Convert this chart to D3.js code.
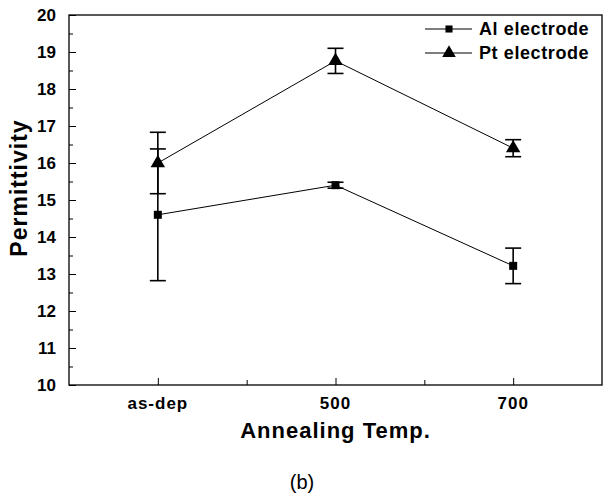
<!DOCTYPE html>
<html>
<head>
<meta charset="utf-8">
<script src="https://cdn.jsdelivr.net/npm/d3@7"></script>
<style>
  body { margin: 0; background: #fff; }
  text { font-family: "Liberation Sans", Arial, sans-serif; }
</style>
</head>
<body>
<script>
// chart data
const categories = ["as-dep", "500", "700"];
const alValues = [14.6, 15.4, 13.22];
const alErrors = [1.78, 0.08, 0.48];
const ptValues = [16.0, 18.76, 16.4];
const ptErrors = [0.83, 0.34, 0.23];
const yTicks = [10, 11, 12, 13, 14, 15, 16, 17, 18, 19, 20];
const seriesNames = ["Al electrode", "Pt electrode"];

const width = 603;
const height = 497;
const margin = { left: 69, right: 1, top: 15, bottom: 112 };

const svg = d3.select("body").append("svg")
  .attr("width", width).attr("height", height);

const x = d3.scaleLinear().domain([0.5, 3.5])
  .range([margin.left, width - margin.right]);
const y = d3.scaleLinear().domain([10, 20])
  .range([height - margin.bottom, margin.top]);

//Frame
svg.append("rect")
  .attr("x", x(0.5)).attr("y", y(20))
  .attr("width", x(3.5) - x(0.5)).attr("height", y(10) - y(20))
  .attr("fill", "none").attr("stroke", "#000").attr("stroke-width", 1.3);

//Y axis (ticks point inward)
const yAxis = d3.axisRight(y).tickValues(yTicks).tickSize(7).tickFormat("");
svg.append("g").attr("transform", `translate(${x(0.5)},0)`).call(yAxis)
  .call(g => g.select(".domain").remove());
const yMinor = d3.axisRight(y).tickValues(d3.range(10.5, 20, 1)).tickSize(4).tickFormat("");
svg.append("g").attr("transform", `translate(${x(0.5)},0)`).call(yMinor)
  .call(g => g.select(".domain").remove());

svg.append("g").selectAll("text").data(yTicks).join("text")
  .attr("x", x(0.5) - 13).attr("y", d => y(d) + 6)
  .attr("text-anchor", "end").attr("font-size", 17).attr("font-weight", "bold")
  .text(d => d);

//X axis
const xAxis = d3.axisTop(x).tickValues([1, 2, 3]).tickSize(7).tickFormat("");
svg.append("g").attr("transform", `translate(0,${y(10)})`).call(xAxis)
  .call(g => g.select(".domain").remove());
const xMinor = d3.axisTop(x).tickValues([1.5, 2.5]).tickSize(5).tickFormat("");
svg.append("g").attr("transform", `translate(0,${y(10)})`).call(xMinor)
  .call(g => g.select(".domain").remove());

svg.append("g").selectAll("text").data(categories).join("text")
  .attr("x", (d, i) => x(i + 1)).attr("y", y(10) + 24)
  .attr("text-anchor", "middle").attr("font-size", 17).attr("font-weight", "bold")
  .attr("letter-spacing", 1)
  .text(d => d);

//Axis titles
svg.append("text")
  .attr("x", x(2)).attr("y", 438)
  .attr("text-anchor", "middle").attr("font-size", 22).attr("font-weight", "bold")
  .attr("letter-spacing", 1)
  .text("Annealing Temp.");

svg.append("text")
  .attr("transform", `translate(27,188) rotate(-90)`)
  .attr("text-anchor", "middle").attr("font-size", 23).attr("font-weight", "bold")
  .attr("letter-spacing", 1)
  .text("Permittivity");

svg.append("text")
  .attr("x", 302).attr("y", 489)
  .attr("text-anchor", "middle").attr("font-size", 20)
  .text("(b)");

//Series
const line = d3.line().x((d, i) => x(i + 1)).y(d => y(d));

const drawSeries = (values, errors, symbol, size) => {
  const g = svg.append("g");
  g.append("path").datum(values).attr("d", line)
    .attr("fill", "none").attr("stroke", "#000").attr("stroke-width", 1);
  values.forEach((v, i) => {
    const cx = x(i + 1);
    g.append("line")
      .attr("x1", cx).attr("x2", cx)
      .attr("y1", y(v - errors[i])).attr("y2", y(v + errors[i]))
      .attr("stroke", "#000").attr("stroke-width", 1.6);
    [v - errors[i], v + errors[i]].forEach(e => {
      g.append("line")
        .attr("x1", cx - 8).attr("x2", cx + 8)
        .attr("y1", y(e)).attr("y2", y(e))
        .attr("stroke", "#000").attr("stroke-width", 1.6);
    });
  });
  g.selectAll(".mk").data(values).join("path")
    .attr("class", "mk")
    .attr("transform", (d, i) => `translate(${x(i + 1)},${y(d)})`)
    .attr("d", d3.symbol().type(symbol).size(size))
    .attr("fill", "#000");
};

drawSeries(alValues, alErrors, d3.symbolSquare, 64);
drawSeries(ptValues, ptErrors, d3.symbolTriangle, 90);

//Legend
const legend = svg.append("g");
[[d3.symbolSquare, 50], [d3.symbolTriangle, 80]].forEach((s, i) => {
  const ly = 29 + i * 24;
  legend.append("line").attr("x1", 425).attr("x2", 472)
    .attr("y1", ly).attr("y2", ly).attr("stroke", "#000").attr("stroke-width", 1.2);
  legend.append("path").attr("transform", `translate(449,${ly})`)
    .attr("d", d3.symbol().type(s[0]).size(s[1])).attr("fill", "#000");
  legend.append("text").attr("x", 479).attr("y", ly + 6)
    .attr("font-size", 18).attr("font-weight", "bold").attr("letter-spacing", 0.6)
    .text(seriesNames[i]);
});
</script>
</body>
</html>
